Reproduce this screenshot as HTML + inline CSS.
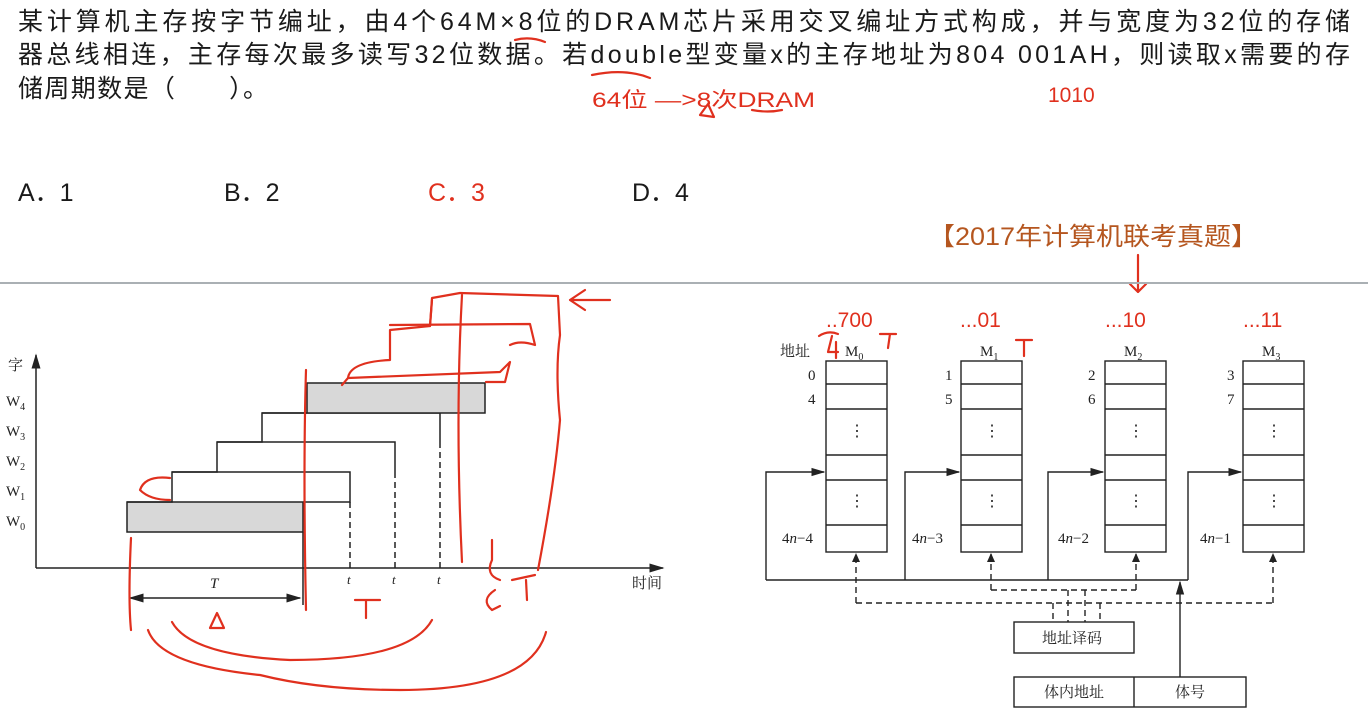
<!DOCTYPE html>
<html><head><meta charset="utf-8"><style>
html,body{margin:0;padding:0;background:#fff;width:1368px;height:726px;overflow:hidden}
svg{display:block}
.t{font-family:"Liberation Sans","Noto Sans CJK SC",sans-serif;fill:#1a1a1a}
.s{font-family:"Liberation Serif","Noto Serif CJK SC",serif;fill:#222}
.r{fill:none;stroke:#e0301e;stroke-width:2.2;stroke-linecap:round;stroke-linejoin:round}
</style></head><body>
<svg width="1368" height="726" viewBox="0 0 1368 726" xmlns="http://www.w3.org/2000/svg">
<defs>
<marker id="a" markerWidth="10" markerHeight="8" refX="9" refY="4" orient="auto"><path d="M0,1 L10,4 L0,7 z" fill="#222"/></marker>
<marker id="b" markerWidth="10" markerHeight="8" refX="1" refY="4" orient="auto"><path d="M10,1 L0,4 L10,7 z" fill="#222"/></marker>
</defs>
<text class="t" x="18" y="30" font-size="25" textLength="1332" lengthAdjust="spacing">某计算机主存按字节编址，由4个64M×8位的DRAM芯片采用交叉编址方式构成，并与宽度为32位的存储</text>
<text class="t" x="18" y="63" font-size="25" textLength="1332" lengthAdjust="spacing">器总线相连，主存每次最多读写32位数据。若double型变量x的主存地址为804 001AH，则读取x需要的存</text>
<text class="t" x="18" y="97" font-size="25" textLength="250" lengthAdjust="spacing">储周期数是（　　）。</text>
<path class="r" d="M515,40 Q530,36 545,42"/>
<path class="r" d="M592,75 Q625,68 650,78"/>
<text x="592" y="107" font-size="21" fill="#e0301e" font-family="Liberation Sans,Noto Sans CJK SC,sans-serif" textLength="223" lengthAdjust="spacingAndGlyphs">64位 —&gt;8次DRAM</text>
<path class="r" d="M752,110 Q768,113 782,110"/>
<path class="r" d="M700,115 L708,104 L714,117 Z"/>
<text x="1048" y="102" font-size="21" fill="#e0301e" font-family="Liberation Sans,sans-serif">1010</text>
<text class="t" x="18" y="201" font-size="25">A．1</text>
<text class="t" x="224" y="201" font-size="25">B．2</text>
<text x="428" y="201" font-size="25" fill="#e0301e" font-family="Liberation Sans,Noto Sans CJK SC,sans-serif">C．3</text>
<text class="t" x="632" y="201" font-size="25">D．4</text>
<text x="928" y="245" font-size="25" fill="#b5561f" font-family="Liberation Sans,Noto Sans CJK SC,sans-serif" textLength="330" lengthAdjust="spacingAndGlyphs">【2017年计算机联考真题】</text>
<path class="r" d="M1138,255 L1138,292 M1130,284 L1138,292 L1146,284"/>
<line x1="0" y1="283" x2="1368" y2="283" stroke="#aab0b4" stroke-width="2"/>

<g stroke="#222" stroke-width="1.5" fill="none">
<line x1="36" y1="568" x2="36" y2="355" marker-end="url(#a)"/>
<line x1="36" y1="568" x2="663" y2="568" marker-end="url(#a)"/>
<rect x="127" y="502" width="176" height="30" fill="#d8d8d8"/>
<polyline points="127,502 172,502 172,472 350,472 350,502 303,502"/>
<polyline points="172,472 217,472 217,442 395,442 395,472"/>
<polyline points="217,442 262,442 262,413 440,413 440,442"/>
<rect x="307" y="383" width="178" height="30" fill="#d8d8d8"/>
<line x1="262" y1="413" x2="307" y2="413"/>
<g stroke-dasharray="6,4"><line x1="350" y1="502" x2="350" y2="568"/><line x1="395" y1="472" x2="395" y2="568"/><line x1="440" y1="442" x2="440" y2="568"/></g>
<line x1="303" y1="532" x2="303" y2="605"/>
<line x1="130" y1="598" x2="300" y2="598" marker-end="url(#a)" marker-start="url(#b)"/>
</g>
<g class="s" font-size="15">
<text x="8" y="370">字</text>
<text x="6" y="406">W<tspan font-size="10" dy="4">4</tspan></text>
<text x="6" y="436">W<tspan font-size="10" dy="4">3</tspan></text>
<text x="6" y="466">W<tspan font-size="10" dy="4">2</tspan></text>
<text x="6" y="496">W<tspan font-size="10" dy="4">1</tspan></text>
<text x="6" y="526">W<tspan font-size="10" dy="4">0</tspan></text>
<text x="210" y="588" font-style="italic">T</text>
<text x="347" y="584" font-style="italic" font-size="13">t</text>
<text x="392" y="584" font-style="italic" font-size="13">t</text>
<text x="437" y="584" font-style="italic" font-size="13">t</text>
<text x="632" y="588">时间</text>
</g>
<path class="r" d="M131,538 Q128,600 131,630"/>
<path class="r" d="M306,370 Q303,470 306,610"/>
<path class="r" d="M170,478 Q145,475 140,490 Q150,500 170,500"/>
<path class="r" d="M342,385 L348,378 Q350,362 390,360 L390,330 L430,326 L432,298 L460,293 L558,296 L560,335 Q555,370 560,420 Q555,480 538,570"/>
<path class="r" d="M390,325 L530,324 L535,345 Q520,340 510,345"/>
<path class="r" d="M348,378 L500,372 L510,362 L505,382 L486,382"/>
<path class="r" d="M462,295 Q455,420 462,562"/>
<path class="r" d="M432,300 L430,326"/>
<path class="r" d="M610,300 L570,300 M585,290 L570,300 L585,310"/>
<path class="r" d="M355,600 L380,600 M366,600 L366,618"/>
<path class="r" d="M492,540 L492,560 Q485,575 500,580 M495,590 Q480,600 492,610 L500,606"/>
<path class="r" d="M512,580 L535,575 M526,580 L527,600"/>
<path class="r" d="M210,628 L217,613 L224,628 Z"/>
<path class="r" d="M172,622 Q190,655 290,660 Q410,660 432,620"/>
<path class="r" d="M148,630 Q160,665 260,675 Q320,690 400,690 Q530,690 546,632"/>

<g stroke="#222" stroke-width="1.4" fill="none">
<g id="bank0">
<rect x="826" y="361" width="61" height="191"/>
<path d="M826,384 H887 M826,409 H887 M826,455 H887 M826,480 H887 M826,525 H887"/>
</g>
<use href="#bank0" x="135"/><use href="#bank0" x="279"/><use href="#bank0" x="417"/>
<polyline points="766,580 766,472 824,472" marker-end="url(#a)"/>
<polyline points="905,580 905,472 959,472" marker-end="url(#a)"/>
<polyline points="1048,580 1048,472 1103,472" marker-end="url(#a)"/>
<polyline points="1188,580 1188,472 1241,472" marker-end="url(#a)"/>
<line x1="766" y1="580" x2="1188" y2="580"/>
<line x1="1180" y1="677" x2="1180" y2="582" marker-end="url(#a)"/>
<g stroke-dasharray="6,4">
<polyline points="856,603 1273,603"/>
<polyline points="991,590 1136,590"/>
<line x1="856" y1="603" x2="856" y2="554"/>
<line x1="991" y1="590" x2="991" y2="554"/>
<line x1="1136" y1="590" x2="1136" y2="554"/>
<line x1="1273" y1="603" x2="1273" y2="554"/>
<line x1="1053" y1="603" x2="1053" y2="622"/>
<line x1="1068" y1="590" x2="1068" y2="622"/>
<line x1="1085" y1="590" x2="1085" y2="622"/>
<line x1="1100" y1="603" x2="1100" y2="622"/>
</g>
<g stroke="none" fill="#222">
<path d="M852,562 L856,553 L860,562 Z"/><path d="M987,562 L991,553 L995,562 Z"/>
<path d="M1132,562 L1136,553 L1140,562 Z"/><path d="M1269,562 L1273,553 L1277,562 Z"/>
</g>
<rect x="1014" y="622" width="120" height="31"/>
<rect x="1014" y="677" width="232" height="30"/>
<line x1="1134" y1="677" x2="1134" y2="707"/>
</g>
<g class="s" font-size="15" fill="#222">
<text x="780" y="356">地址</text>
<text x="845" y="356">M<tspan font-size="10" dy="4">0</tspan></text>
<text x="980" y="356">M<tspan font-size="10" dy="4">1</tspan></text>
<text x="1124" y="356">M<tspan font-size="10" dy="4">2</tspan></text>
<text x="1262" y="356">M<tspan font-size="10" dy="4">3</tspan></text>
<text x="808" y="380">0</text><text x="808" y="404">4</text>
<text x="945" y="380">1</text><text x="945" y="404">5</text>
<text x="1088" y="380">2</text><text x="1088" y="404">6</text>
<text x="1227" y="380">3</text><text x="1227" y="404">7</text>
<text x="782" y="543">4<tspan font-style="italic">n</tspan>−4</text>
<text x="912" y="543">4<tspan font-style="italic">n</tspan>−3</text>
<text x="1058" y="543">4<tspan font-style="italic">n</tspan>−2</text>
<text x="1200" y="543">4<tspan font-style="italic">n</tspan>−1</text>
<text x="1042" y="643">地址译码</text>
<text x="1044" y="697">体内地址</text>
<text x="1175" y="697">体号</text>
</g>
<g fill="#222" font-family="Liberation Serif,serif" font-size="16" text-anchor="middle">
<text x="857" y="436">⋮</text><text x="857" y="506">⋮</text>
<text x="992" y="436">⋮</text><text x="992" y="506">⋮</text>
<text x="1136" y="436">⋮</text><text x="1136" y="506">⋮</text>
<text x="1274" y="436">⋮</text><text x="1274" y="506">⋮</text>
</g>
<g fill="#e0301e" font-family="Liberation Sans,sans-serif" font-size="21">
<text x="826" y="327">..700</text>
<text x="960" y="327">...01</text>
<text x="1105" y="327">...10</text>
<text x="1243" y="327">...11</text>
</g>
<path class="r" d="M819,336 Q828,330 838,334 M832,336 L828,352 L838,352 M836,342 L836,358"/>
<path class="r" d="M880,334 L896,334 M890,334 L888,348"/>
<path class="r" d="M1016,340 L1032,340 M1024,340 L1024,356"/>
</svg>
</body></html>
